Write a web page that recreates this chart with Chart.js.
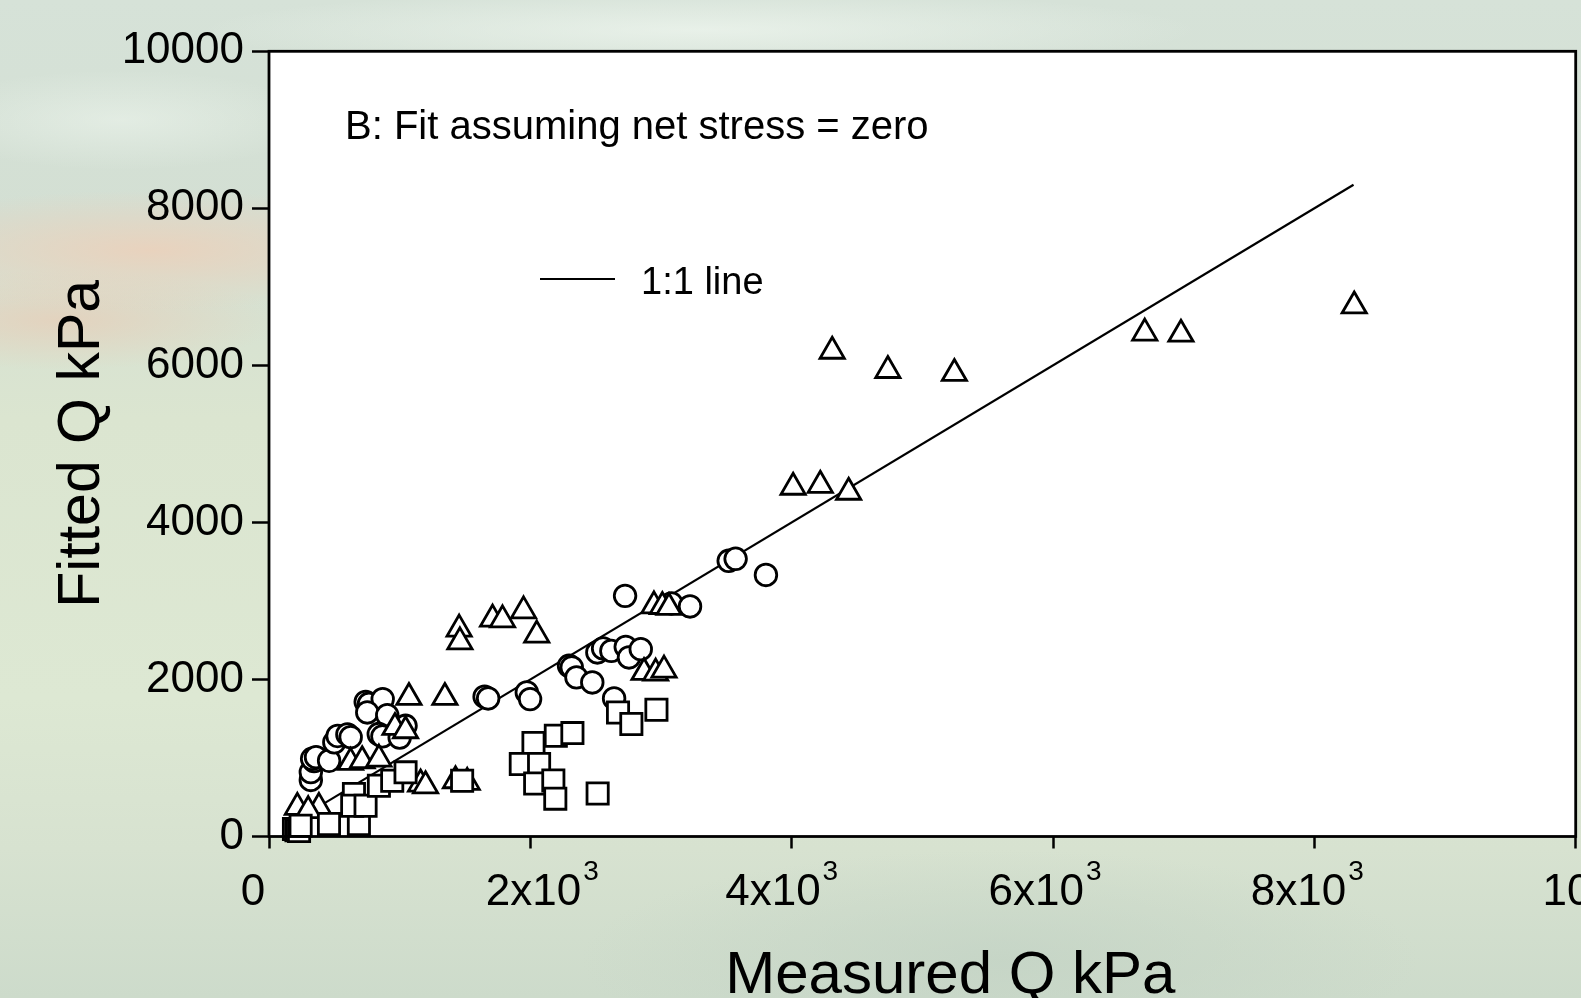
<!DOCTYPE html>
<html>
<head>
<meta charset="utf-8">
<script src="https://cdn.jsdelivr.net/npm/chart.js@4.4.1/dist/chart.umd.min.js"></script>
<style>
  html, body { margin: 0; padding: 0; overflow: hidden; }
  body {
    width: 1581px; height: 998px;
    background:
      radial-gradient(ellipse 300px 60px at 150px 250px, rgba(236, 208, 186, 0.85), rgba(236, 208, 186, 0) 100%),
      radial-gradient(ellipse 220px 50px at 60px 320px, rgba(232, 204, 182, 0.7), rgba(232, 204, 182, 0) 100%),
      radial-gradient(ellipse 500px 40px at 700px 30px, rgba(240, 247, 240, 0.7), rgba(240, 247, 240, 0) 100%),
      radial-gradient(ellipse 200px 50px at 120px 120px, rgba(236, 244, 236, 0.6), rgba(236, 244, 236, 0) 100%),
      radial-gradient(ellipse 420px 110px at 1000px 960px, rgba(194, 210, 196, 0.7), rgba(194, 210, 196, 0) 100%),
      linear-gradient(180deg, #d6e2d8 0%, #d3dfd3 22%, #dbe5d0 42%, #dde8d3 70%, #d7e2d0 85%, #cddbcb 100%);
  }
  canvas { display: block; }
</style>
</head>
<body>
<canvas id="chart" width="1581" height="998"></canvas>
<script>
// measured vs fitted Q (kPa)
const circlesX = [320, 320, 345, 330, 360, 460, 500, 525, 600, 625, 740, 765, 870, 752, 905, 1045, 840, 868, 1000, 1650, 1677, 1973, 1998, 2296, 2317, 2353, 2474, 2513, 2557, 2620, 2730, 2755, 2845, 2641, 2725, 3079, 3222, 3518, 3571, 3803];
const circlesY = [720, 820, 960, 990, 1010, 965, 1200, 1280, 1300, 1265, 1715, 1690, 1750, 1580, 1545, 1410, 1305, 1275, 1260, 1780, 1758, 1835, 1750, 2174, 2153, 2026, 1962, 2344, 2395, 2364, 2415, 2280, 2386, 1759, 3065, 2968, 2930, 3511, 3537, 3331];

const trianglesX = [217, 382, 300, 624, 713, 841, 964, 1045, 1071, 1346, 1160, 1198, 1427, 1517, 1455, 1461, 1711, 1787, 1948, 2049, 2870, 2959, 3023, 2946, 3010, 3061, 4011, 4219, 4436, 4310, 4736, 5245, 6702, 6979, 8305];
const trianglesY = [371, 371, 330, 944, 965, 986, 1389, 1347, 1771, 1771, 668, 646, 710, 689, 2641, 2479, 2768, 2759, 2874, 2564, 2089, 2081, 2119, 2937, 2929, 2917, 4448, 4473, 4384, 6180, 5935, 5897, 6411, 6397, 6757];

const squaresX = [191, 210, 230, 242, 459, 688, 650, 637, 739, 841, 943, 1045, 1478, 2024, 2195, 2322, 1927, 2067, 2037, 2176, 2191, 2515, 2671, 2773, 2965];
const squaresY = [95, 80, 70, 137, 159, 159, 541, 392, 392, 646, 710, 817, 710, 1190, 1283, 1317, 923, 923, 676, 714, 482, 547, 1580, 1432, 1614];

const lineX = [400, 8300];
const lineY = [400, 8300];

const xTicks = [0, 2000, 4000, 6000, 8000, 10000];
const xTickBase = ['0', '2x10', '4x10', '6x10', '8x10', '10'];
const xTickExp = ['', '3', '3', '3', '3', '4'];

const FONT = '"Liberation Sans", Arial, Helvetica, sans-serif';
// small nudges so the x labels sit where the original put them
const xLabelNudge = [-16, 12, -10, -8, -7, 0];

const toPoints = (xs, ys) => xs.map((x, i) => ({x: x, y: ys[i]}));

const markerStyle = {
    backgroundColor: '#ffffff',
    borderColor: '#000000',
    borderWidth: 2.8,
    pointBorderWidth: 2.8,
    showLine: false
};

const framePlugin = {
    id: 'frame',
    beforeDraw(chart) {
        const {ctx, chartArea: a} = chart;
        ctx.save();
        ctx.fillStyle = '#ffffff';
        ctx.fillRect(a.left, a.top, a.right - a.left, a.bottom - a.top);
        ctx.restore();
    },
    afterDraw(chart) {
        const {ctx, chartArea: a, scales} = chart;
        ctx.save();
        ctx.strokeStyle = '#000000';
        ctx.lineWidth = 2.8;
        ctx.strokeRect(a.left, a.top, a.right - a.left, a.bottom - a.top);

        ctx.fillStyle = '#000000';
        ctx.textBaseline = 'alphabetic';

        // x tick labels with a raised exponent
        xTicks.forEach((v, i) => {
            const px = scales.x.getPixelForValue(v) + xLabelNudge[i];
            ctx.font = '44px ' + FONT;
            const wb = ctx.measureText(xTickBase[i]).width;
            ctx.font = '28px ' + FONT;
            const we = xTickExp[i] ? ctx.measureText(xTickExp[i]).width + 2 : 0;
            const x0 = px - (wb + we) / 2;
            ctx.textAlign = 'left';
            ctx.font = '44px ' + FONT;
            ctx.fillText(xTickBase[i], x0, 905);
            if (xTickExp[i]) {
                ctx.font = '28px ' + FONT;
                ctx.fillText(xTickExp[i], x0 + wb + 2, 880);
            }
        });

        ctx.textAlign = 'left';
        ctx.font = '40px ' + FONT;
        ctx.fillText('B: Fit assuming net stress = zero', 345, 139);

        // legend for the 1:1 line
        ctx.lineWidth = 2;
        ctx.beginPath();
        ctx.moveTo(540, 279);
        ctx.lineTo(615, 279);
        ctx.stroke();
        ctx.font = '38px ' + FONT;
        ctx.fillText('1:1 line', 641, 294);

        // x axis title (sits a little right of centre in the original)
        ctx.font = '60px ' + FONT;
        ctx.textAlign = 'center';
        ctx.fillText('Measured Q kPa', (a.left + a.right) / 2 + 28, 993);
        ctx.restore();
    }
};

new Chart(document.getElementById('chart').getContext('2d'), {
    type: 'scatter',
    data: {
        datasets: [
            {
                label: '1:1 line',
                type: 'line',
                data: toPoints(lineX, lineY),
                borderColor: '#000000',
                borderWidth: 2.2,
                pointRadius: 0,
                fill: false,
                order: 4
            },
            Object.assign({
                label: 'circles',
                data: toPoints(circlesX, circlesY),
                pointStyle: 'circle',
                pointRadius: 10.8,
                order: 3
            }, markerStyle),
            Object.assign({
                label: 'triangles',
                data: toPoints(trianglesX, trianglesY),
                pointStyle: 'triangle',
                pointRadius: 14,
                order: 2
            }, markerStyle),
            Object.assign({
                label: 'squares',
                data: toPoints(squaresX, squaresY),
                pointStyle: 'rect',
                pointRadius: 15,
                clip: false,
                order: 1
            }, markerStyle)
        ]
    },
    options: {
        responsive: false,
        animation: false,
        devicePixelRatio: 1,
        layout: {
            autoPadding: false,
            padding: {left: 0, top: 51.3, right: 5.3, bottom: 0}
        },
        plugins: {
            legend: {display: false},
            tooltip: {enabled: false}
        },
        scales: {
            x: {
                type: 'linear',
                min: 0,
                max: 10000,
                afterFit: (scale) => {
                    scale.height = 161.5;
                    scale.paddingLeft = 0;
                    scale.paddingRight = 0;
                },
                afterBuildTicks: (scale) => { scale.ticks = xTicks.map(v => ({value: v})); },
                border: {display: false},
                grid: {
                    drawOnChartArea: false,
                    drawTicks: true,
                    tickLength: 12,
                    tickWidth: 2.5,
                    tickColor: '#000000'
                },
                ticks: {display: false},
                title: {display: false}
            },
            y: {
                type: 'linear',
                min: 0,
                max: 10000,
                afterFit: (scale) => {
                    scale.width = 269;
                    scale.paddingTop = 0;
                    scale.paddingBottom = 0;
                },
                border: {display: false},
                grid: {
                    drawOnChartArea: false,
                    drawTicks: true,
                    tickLength: 17,
                    tickWidth: 2.5,
                    tickColor: '#000000'
                },
                ticks: {
                    stepSize: 2000,
                    color: '#000000',
                    padding: 8,
                    font: {family: FONT, size: 44},
                    callback: (value) => String(value)
                },
                title: {
                    display: true,
                    text: 'Fitted Q kPa',
                    color: '#000000',
                    font: {family: FONT, size: 59},
                    padding: {top: 47, bottom: 0}
                }
            }
        }
    },
    plugins: [framePlugin]
});
</script>
</body>
</html>
